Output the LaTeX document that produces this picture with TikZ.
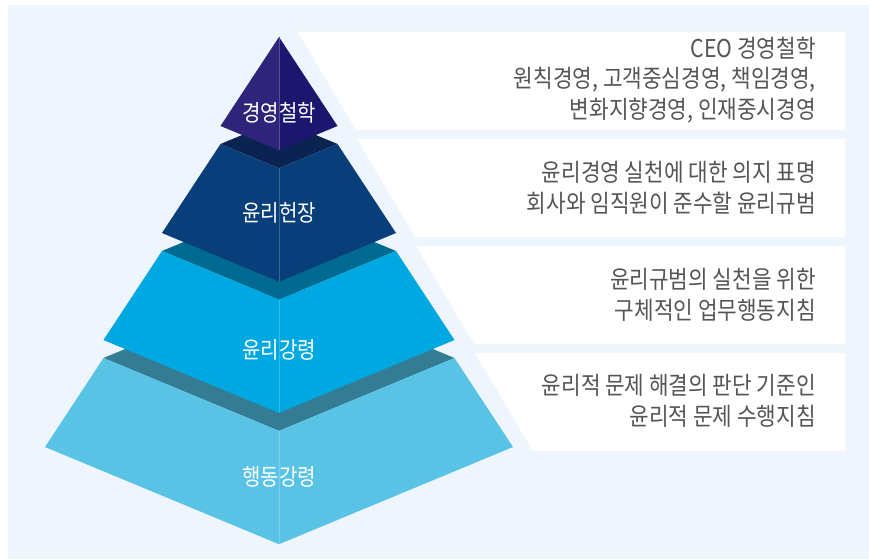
\documentclass[tikz,border=0pt]{standalone}
\usepackage{fontspec}
\newfontfamily\krfont[FakeStretch=0.87]{Noto Sans CJK KR}
\usetikzlibrary{calc}
\definecolor{bgcol}{HTML}{EEF5FC}
\definecolor{textgray}{HTML}{555555}
\definecolor{philL}{HTML}{2E2479}
\definecolor{philR}{HTML}{1C166F}
\definecolor{charter}{HTML}{083E79}
\definecolor{chartertop}{HTML}{0A2350}
\definecolor{code}{HTML}{00A8E1}
\definecolor{codetop}{HTML}{016A90}
\definecolor{conduct}{HTML}{59C3E6}
\definecolor{conducttop}{HTML}{337C94}
\tikzstyle{tiertext}=[text=white,font=\krfont\fontsize{23}{27}\selectfont]
\tikzstyle{desc}=[anchor=east,align=right,inner sep=0pt,text=textgray,font=\krfont\fontsize{24.5}{30.5}\selectfont]
\tikzstyle{card}=[fill=white]

\begin{document}
\begin{tikzpicture}[x=1pt,y=-1pt]
  \def\cx{279}      % pyramid axis
  \def\pitch{107}   % tier pitch
  \def\hstep{58.5}  % half width step
  \def\dstep{24.3}  % depth of top face per step
  \useasboundingbox (0,0) rectangle (869,559);
  \fill[bgcol] (8,5) rectangle (869,559);

  % white cards, left edge follows the pyramid side
  \foreach \k in {1,...,4} {
    \pgfmathsetmacro\yt{32+(\k-1)*\pitch}
    \fill[card] ({298+(\k-1)*59},\yt) -- (845,\yt) -- (845,{\yt+98})
      -- ({356+(\k-1)*59},{\yt+98}) -- cycle;
  }

  % tiers, drawn from the base up
  \foreach \k/\lc/\rc/\tc in {4/conduct/conduct/conducttop,3/code/code/codetop,
      2/charter/charter/chartertop,1/philL/philR/philR} {
    \pgfmathsetmacro\yT{144+(\k-2)*\pitch}
    \pgfmathsetmacro\yB{126+(\k-1)*\pitch}
    \pgfmathsetmacro\wa{\hstep*(\k-1)}
    \pgfmathsetmacro\wb{\hstep*\k}
    \pgfmathsetmacro\da{\dstep*(\k-1)}
    \pgfmathsetmacro\db{\dstep*\k}
    \fill[\tc] ({\cx-\wa},\yT) -- (\cx,{\yT-\da}) -- ({\cx+\wa},\yT) -- (\cx,{\yT+\da}) -- cycle;
    \fill[\lc] ({\cx-\wa},\yT) -- (\cx,{\yT+\da}) -- (\cx,{\yB+\db}) -- ({\cx-\wb},\yB) -- cycle;
    \fill[\rc] ({\cx+\wa},\yT) -- (\cx,{\yT+\da}) -- (\cx,{\yB+\db}) -- ({\cx+\wb},\yB) -- cycle;
    \draw[\lc!80!white,line width=0.4pt] (\cx,{\yT+\da}) -- (\cx,{\yB+\db});
  }

  \node[tiertext] (phil) at (\cx,113) {경영철학};
  \node[tiertext] (charter) at (\cx,213) {윤리헌장};
  \node[tiertext] (code) at (\cx,350) {윤리강령};
  \node[tiertext] (conduct) at (\cx,477) {행동강령};

  \node[desc] (d1) at (816,80) {CEO 경영철학\\원칙경영, 고객중심경영, 책임경영,\\변화지향경영, 인재중시경영};
  \node[desc] (d2) at (816,188) {윤리경영 실천에 대한 의지 표명\\회사와 임직원이 준수할 윤리규범};
  \node[desc] (d3) at (816,295) {윤리규범의 실천을 위한\\구체적인 업무행동지침};
  \node[desc] (d4) at (816,401) {윤리적 문제 해결의 판단 기준인\\윤리적 문제 수행지침};
\end{tikzpicture}
\end{document}
